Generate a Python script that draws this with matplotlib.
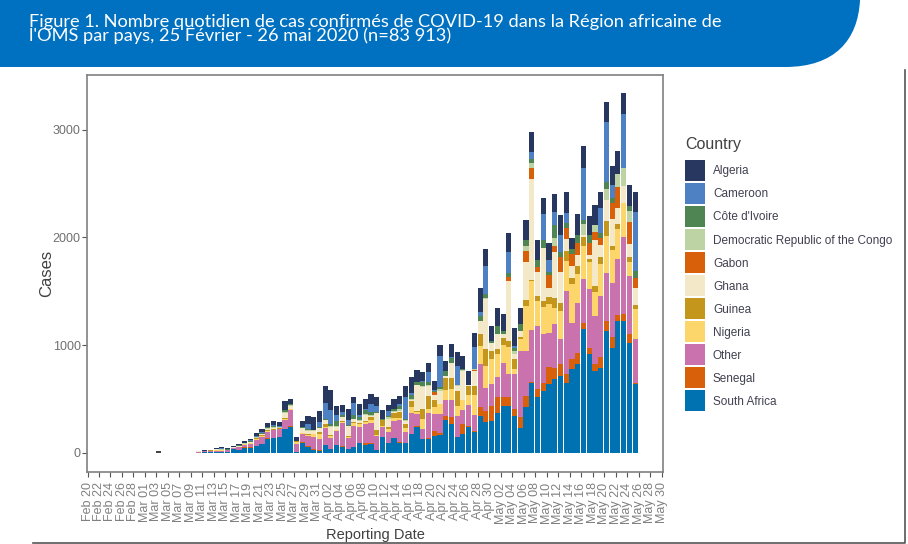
import matplotlib
matplotlib.use('Agg')
import matplotlib.pyplot as plt
import numpy as np
import pandas as pd
from matplotlib.patches import Patch, PathPatch
from matplotlib.path import Path

# daily cases 11 Mar - 26 May 2020
south_africa = [0,2,2,3,5,6,30,20,45,45,60,75,130,135,146,217,242,5,93,50,20,15,71,30,68,56,31,47,87,71,78,22,140,87,133,93,87,170,242,124,130,155,164,300,264,140,177,242,192,341,288,295,372,434,434,341,232,419,651,518,573,636,682,713,651,775,822,1147,915,760,790,1131,976,1224,1224,1023,636]
senegal = [0,3,5,5,3,2,2,2,2,3,5,3,3,3,3,3,2,2,3,10,10,10,3,3,3,8,3,5,3,22,15,3,3,3,3,3,3,3,3,3,3,46,20,40,62,3,87,5,5,84,99,140,140,84,84,62,99,108,5,71,78,155,108,108,78,93,108,62,53,62,99,93,99,53,68,84,15]
other = [3,5,6,10,10,12,12,25,25,35,55,70,60,70,70,84,155,70,80,90,117,105,150,105,127,210,100,195,152,170,186,133,90,100,155,202,105,195,115,93,232,161,177,145,161,200,130,192,149,397,217,200,192,319,211,325,614,419,480,589,450,325,403,232,775,341,465,403,552,450,567,450,505,527,716,536,403]
nigeria = [0,2,3,3,2,3,2,3,3,5,6,8,8,3,3,8,3,25,5,10,25,40,15,15,10,12,12,25,25,20,20,8,15,25,30,25,30,53,20,90,40,65,87,100,102,87,93,93,186,170,200,232,217,164,254,50,108,419,460,233,248,264,155,264,279,357,264,310,248,217,300,340,300,273,316,130,279]
guinea = [0,0,3,6,3,0,0,3,3,5,5,5,10,5,5,5,2,2,5,10,5,25,30,10,5,10,8,8,8,8,30,40,50,25,45,52,40,55,5,93,124,60,5,105,108,146,5,84,84,110,155,78,40,68,56,93,22,53,5,46,62,62,93,70,93,60,80,84,30,62,62,140,43,53,0,46,37]
ghana = [10,4,3,3,5,2,2,10,5,5,8,10,8,12,5,55,30,5,38,30,25,30,30,70,25,30,90,30,20,60,15,160,6,72,10,15,25,15,240,210,90,45,124,20,135,45,270,10,140,120,465,78,140,31,558,41,56,357,940,224,494,85,425,295,110,112,100,15,39,430,112,193,248,140,155,118,164]
gabon = [0,0,0,0,0,0,0,0,0,0,0,0,0,0,0,0,0,0,0,0,0,0,0,0,0,0,0,0,0,0,0,0,0,0,0,0,0,0,0,0,0,30,0,0,0,0,0,0,15,0,0,0,0,0,31,0,0,102,108,46,0,124,56,140,99,105,108,0,108,68,62,0,146,200,0,208,93]
drc = [0,0,0,0,3,2,2,2,3,3,5,5,5,5,5,8,8,0,5,5,5,5,8,10,5,5,5,5,10,10,8,3,3,15,12,15,10,5,5,5,8,5,10,5,5,5,5,2,5,0,10,0,0,0,0,30,0,46,40,0,0,0,70,0,0,0,0,100,0,68,0,100,0,124,170,105,0]
cote_ivoire = [0,0,0,3,3,3,0,3,2,4,4,5,10,15,5,15,8,0,5,10,5,5,8,20,48,15,10,30,30,30,28,5,3,15,15,30,12,40,30,40,30,5,25,40,40,5,8,2,5,45,45,15,78,31,46,30,62,53,40,62,70,30,124,46,46,46,76,40,78,0,53,71,46,0,0,46,62]
cameroon = [0,2,2,2,6,3,3,6,5,8,10,12,5,5,3,5,0,0,0,48,0,45,150,130,60,35,44,115,15,12,70,60,0,45,0,14,200,14,0,5,95,8,288,5,7,175,0,0,196,44,257,0,0,0,192,20,0,0,62,0,239,108,124,155,93,0,0,487,0,0,226,552,124,0,502,0,550]
algeria = [2,4,4,5,10,7,6,10,12,17,25,30,40,38,40,80,46,40,60,78,120,108,155,190,84,62,100,56,100,93,93,78,87,56,93,78,108,148,106,90,85,87,99,93,124,133,124,130,133,217,155,140,164,161,174,170,155,186,186,186,158,164,164,186,202,102,195,202,177,186,155,186,180,211,189,195,186]

# lone early report
early_date = '2020-03-04'
early_cases = [10]

# bottom to top of the stack
stack = [
    ('South Africa', south_africa, '#0072B2'),
    ('Senegal', senegal, '#D9600B'),
    ('Other', other, '#CA72AE'),
    ('Nigeria', nigeria, '#FDD66B'),
    ('Guinea', guinea, '#C4961C'),
    ('Ghana', ghana, '#F3E9C8'),
    ('Gabon', gabon, '#D9600B'),
    ('Democratic Republic of the Congo', drc, '#BDD3A3'),
    ("Côte d'Ivoire", cote_ivoire, '#4F8553'),
    ('Cameroon', cameroon, '#4E81C4'),
    ('Algeria', algeria, '#27375F'),
]

start = pd.Timestamp('2020-02-20')
dates = pd.date_range('2020-03-11', '2020-05-26')
days = np.array((dates - start).days) - 0.6

fig = plt.figure(figsize=(9.08, 5.44), dpi=100, facecolor='white')

# page furniture in pixel coordinates
bg = fig.add_axes([0, 0, 1, 1])
bg.set_xlim(0, 908)
bg.set_ylim(544, 0)
bg.axis('off')
banner = Path([(0, 0), (860, 0), (858, 40), (835, 67), (785, 67), (0, 67), (0, 0)],
              [Path.MOVETO, Path.LINETO, Path.CURVE4, Path.CURVE4, Path.CURVE4, Path.LINETO, Path.CLOSEPOLY])
bg.add_patch(PathPatch(banner, fc='#0070C0', ec='none'))
bg.text(29, 21.5, 'Figure 1. Nombre quotidien de cas confirmés de COVID-19 dans la Région africaine de',
        color='white', fontsize=13.15, family='Lato', va='center')
bg.text(29, 36, "l'OMS par pays, 25 Février - 26 mai 2020 (n=83 913)",
        color='white', fontsize=13.15, family='Lato', va='center')
bg.plot([33, 905, 905], [542.5, 542.5, 70], color='#555555', lw=1.2)

ax = fig.add_axes([87/908, 72/544, 576/908, 397.5/544])
bottom = np.zeros(len(dates))
for name, values, color in stack:
    ax.bar(days, values, width=0.9, bottom=bottom, color=color, linewidth=0)
    bottom += np.array(values)
ax.bar((pd.Timestamp(early_date) - start).days - 0.6, early_cases, width=0.9, color='#444444', linewidth=0)

ax.set_xlim(-0.09, 100.26)
ax.set_ylim(-181, 3516)
tick_days = np.arange(0, 101, 2)
ax.set_xticks(tick_days)
ax.set_xticklabels([(start + pd.Timedelta(days=int(d))).strftime('%b %d') for d in tick_days],
                   rotation=90, fontsize=9, color='#808080', family='Liberation Sans')
ax.set_yticks([0, 1000, 2000, 3000])
ax.set_yticklabels(['0', '1000', '2000', '3000'], fontsize=9, color='#707070', family='Liberation Sans')
ax.tick_params(axis='both', length=3.5, width=0.8, color='#555555', pad=1)
ax.tick_params(axis='x', pad=4)
ax.set_xlabel('Reporting Date', fontsize=10.5, color='#404040', family='Liberation Sans', labelpad=3)
ax.set_ylabel('Cases', fontsize=12, color='#404040', family='Liberation Sans', labelpad=-1)
for side in ax.spines.values():
    side.set_color('#808080')
    side.set_linewidth(1.2)

handles = [Patch(fc=color, ec='none', label=name) for name, values, color in stack[::-1]]
leg = fig.legend(handles=handles, title='Country', loc='upper left', bbox_to_anchor=(685/908, 1 - 137/544),
                 frameon=False, borderpad=0, borderaxespad=0, handlelength=1.69, handleheight=2.36,
                 labelspacing=0.17, handletextpad=0.68, alignment='left',
                 prop={'family': 'Liberation Sans', 'size': 8.5},
                 title_fontproperties={'family': 'Liberation Sans', 'size': 11.5})
leg._legend_box.sep = 6
leg.get_title().set_color('#404040')
for t in leg.get_texts():
    t.set_color('#404050')

fig.savefig('out.png', dpi=100)
